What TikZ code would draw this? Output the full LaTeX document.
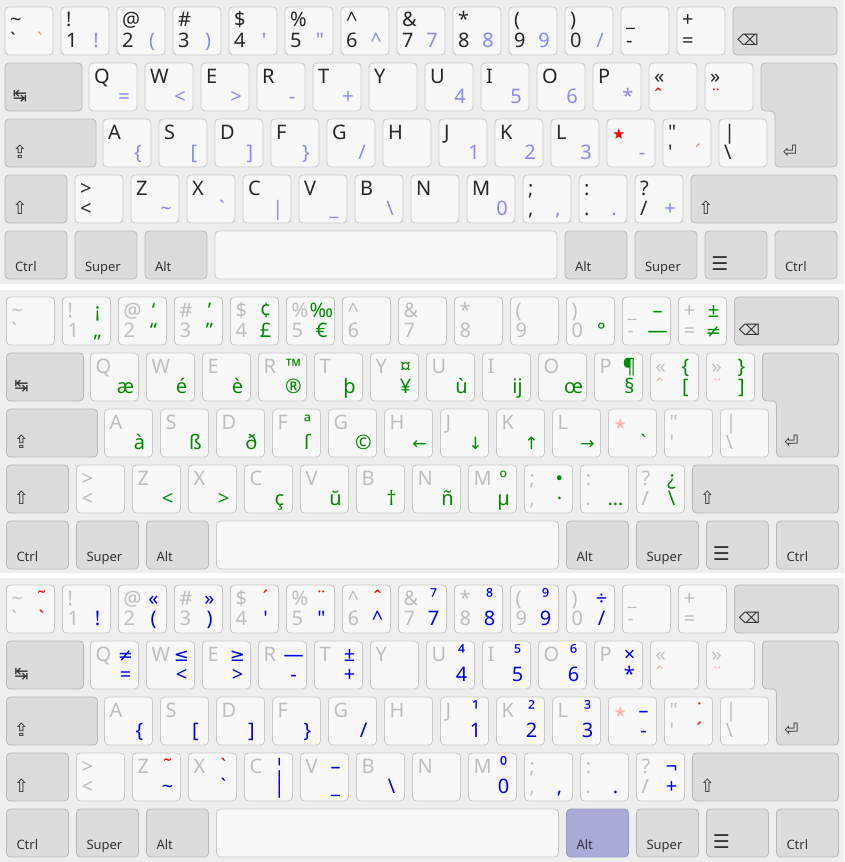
\documentclass[tikz,border=0pt]{standalone}
\usepackage{fontspec}
\newfontfamily\kf{Noto Sans}
\newfontfamily\dvs{DejaVu Sans}
\definecolor{bg}{HTML}{EEEEEC}
\definecolor{keyfill}{HTML}{F8F8F8}
\definecolor{keyline}{HTML}{C8C8C8}
\definecolor{modfill}{HTML}{DCDCDC}
\definecolor{modline}{HTML}{B8B8B8}
\definecolor{altfill}{HTML}{AAAAD8}
\definecolor{altline}{HTML}{9A9AC8}
\definecolor{modtext}{HTML}{333333}
\definecolor{ink}{HTML}{262626}
\definecolor{fade}{HTML}{BEBEBE}
\definecolor{lblue}{HTML}{8888FF}
\definecolor{dblue}{HTML}{0000EE}
\definecolor{dgreen}{HTML}{008A00}
\definecolor{deadred}{HTML}{FF0000}
\definecolor{lightred}{HTML}{FF8080}
\definecolor{pinkd}{HTML}{FFB4B4}
\newcommand\redD[1]{\textcolor{deadred}{#1}}
\newcommand\redL[1]{\textcolor{lightred}{#1}}
\newcommand\pinkD[1]{\textcolor{pinkd}{#1}}
\newcommand\Star[1]{{\dvs\fontsize{15}{15}\selectfont\color{#1}★}}
\newcommand\DV[2]{{\dvs\fontsize{#1}{#1}\selectfont #2}}
\tikzset{
  keybox/.style={draw=keyline, fill=keyfill, rounded corners=4pt, line width=0.8pt,
    minimum width=48pt, minimum height=48pt, anchor=north west, inner sep=0pt, outer sep=0pt},
  modbox/.style={keybox, draw=modline, fill=modfill},
  alton/.style={fill=altfill, draw=altline},
  basec/.style={text=ink},
  altc/.style={text=lblue},
  tl/.style={anchor=base west, inner sep=0pt, outer sep=0pt, font=\kf\fontsize{20}{24}\selectfont, basec},
  tr/.style={anchor=base, inner sep=0pt, outer sep=0pt, font=\kf\fontsize{20}{24}\selectfont, altc},
  modlab/.style={anchor=base west, inner sep=0pt, outer sep=0pt, font=\kf\fontsize{13}{15}\selectfont, text=modtext},
  symlab/.style={anchor=center, inner sep=0pt, outer sep=0pt, font=\dvs, text=modtext},
}
\newcommand\KEY[7]{%
  \node[keybox] (#1) at (#2,#3) {};
  \node[tl] (#1-tl) at ([shift={(5,20)}]#1.north west) {#4};
  \node[tl] (#1-bl) at ([shift={(5,40)}]#1.north west) {#5};
  \node[tr] (#1-tr) at ([shift={(35,20)}]#1.north west) {#6};
  \node[tr] (#1-br) at ([shift={(35,40)}]#1.north west) {#7};
}
\newcommand\Mk[6][]{%
  \node[modbox, minimum width=#5pt, #1] (#2) at (#3,#4) {};
  \node[modlab] (#2-l) at ([shift={(10,40)}]#2.north west) {#6};
}
\newcommand\Ms[5]{%
  \node[modbox, minimum width=#4pt] (#1) at (#2,#3) {};
  \node[symlab] (#1-l) at ([shift={(15,33)}]#1.north west) {#5};
}
\newcommand\KFrame[2]{%
  \Ms{#1-bksp}{728}{7}{104}{\fontsize{15}{15}\selectfont ⌫}
  \Ms{#1-tab}{0}{63}{77}{\fontsize{17}{17}\selectfont ↹}
  \draw[draw=modline, fill=modfill, line width=0.8pt, rounded corners=4pt]
    (794,63) -- (832,63) -- (832,167) -- (770,167) -- (770,111) -- (756,111) -- (756,63) -- cycle;
  \node[symlab] (#1-enter-l) at (785,151) {\fontsize{17}{17}\selectfont ⏎};
  \Ms{#1-caps}{0}{119}{91}{\fontsize{18}{18}\selectfont ⇪}
  \Ms{#1-lshift}{0}{175}{62}{\fontsize{18}{18}\selectfont ⇧}
  \Ms{#1-rshift}{686}{175}{146}{\fontsize{18}{18}\selectfont ⇧}
  \Mk{#1-lctrl}{0}{231}{62}{Ctrl}
  \Mk{#1-lsuper}{70}{231}{62}{Super}
  \Mk{#1-lalt}{140}{231}{62}{Alt}
  \node[keybox, minimum width=342pt] (#1-space) at (210,231) {};
  \Mk[#2]{#1-ralt}{560}{231}{62}{Alt}
  \Mk{#1-rsuper}{630}{231}{62}{Super}
  \Ms{#1-menu}{700}{231}{62}{\fontsize{19}{19}\selectfont ☰}
  \Mk{#1-rctrl}{770}{231}{62}{Ctrl}
}
\begin{document}
\begin{tikzpicture}[x=1pt, y=-1pt]
\useasboundingbox (0,0) rectangle (844,862);
\fill[white] (0,0) rectangle (844,862);
\fill[bg] (0,0) rectangle (844,284);
\fill[bg] (0,290) rectangle (844,573);
\fill[bg] (0,578) rectangle (844,862);

% ================= keyboard 1 : base layer =================
\begin{scope}[shift={(5,0)}, basec/.style={text=ink}, altc/.style={text=lblue}]
\KFrame{a}{}
\KEY{a-grave}{0}{7}{\textasciitilde}{`}{}{\redL{`}}
\KEY{a-1}{56}{7}{!}{1}{}{!}
\KEY{a-2}{112}{7}{@}{2}{}{(}
\KEY{a-3}{168}{7}{\#}{3}{}{)}
\KEY{a-4}{224}{7}{\$}{4}{}{'}
\KEY{a-5}{280}{7}{\%}{5}{}{"}
\KEY{a-6}{336}{7}{\textasciicircum}{6}{}{\textasciicircum}
\KEY{a-7}{392}{7}{\&}{7}{}{7}
\KEY{a-8}{448}{7}{*}{8}{}{8}
\KEY{a-9}{504}{7}{(}{9}{}{9}
\KEY{a-0}{560}{7}{)}{0}{}{/}
\KEY{a-minus}{616}{7}{\_}{-}{}{}
\KEY{a-equal}{672}{7}{+}{=}{}{}
\KEY{a-q}{84}{63}{Q}{}{}{=}
\KEY{a-w}{140}{63}{W}{}{}{<}
\KEY{a-e}{196}{63}{E}{}{}{>}
\KEY{a-r}{252}{63}{R}{}{}{-}
\KEY{a-t}{308}{63}{T}{}{}{+}
\KEY{a-y}{364}{63}{Y}{}{}{}
\KEY{a-u}{420}{63}{U}{}{}{4}
\KEY{a-i}{476}{63}{I}{}{}{5}
\KEY{a-o}{532}{63}{O}{}{}{6}
\KEY{a-p}{588}{63}{P}{}{}{*}
\KEY{a-lq}{644}{63}{«}{\redD{ˆ}}{}{}
\KEY{a-rq}{700}{63}{»}{\redD{¨}}{}{}
\KEY{a-a}{98}{119}{A}{}{}{\{}
\KEY{a-s}{154}{119}{S}{}{}{[}
\KEY{a-d}{210}{119}{D}{}{}{]}
\KEY{a-f}{266}{119}{F}{}{}{\}}
\KEY{a-g}{322}{119}{G}{}{}{/}
\KEY{a-h}{378}{119}{H}{}{}{}
\KEY{a-j}{434}{119}{J}{}{}{1}
\KEY{a-k}{490}{119}{K}{}{}{2}
\KEY{a-l}{546}{119}{L}{}{}{3}
\KEY{a-star}{602}{119}{\Star{deadred}}{}{}{-}
\KEY{a-quote}{658}{119}{"}{'}{}{\redL{´}}
\KEY{a-bar}{714}{119}{|}{\textbackslash}{}{}
\KEY{a-lt}{70}{175}{>}{<}{}{}
\KEY{a-z}{126}{175}{Z}{}{}{\textasciitilde}
\KEY{a-x}{182}{175}{X}{}{}{`}
\KEY{a-c}{238}{175}{C}{}{}{|}
\KEY{a-v}{294}{175}{V}{}{}{\_}
\KEY{a-b}{350}{175}{B}{}{}{\textbackslash}
\KEY{a-n}{406}{175}{N}{}{}{}
\KEY{a-m}{462}{175}{M}{}{}{0}
\KEY{a-comma}{518}{175}{;}{,}{}{,}
\KEY{a-dot}{574}{175}{:}{.}{}{.}
\KEY{a-slash}{630}{175}{?}{/}{}{+}
\end{scope}

% ================= keyboard 2 : one dead key layer =================
\begin{scope}[shift={(6.5,290)}, basec/.style={text=fade}, altc/.style={text=dgreen}]
\KFrame{b}{}
\KEY{b-grave}{0}{7}{\textasciitilde}{`}{}{}
\KEY{b-1}{56}{7}{!}{1}{¡}{„}
\KEY{b-2}{112}{7}{@}{2}{‘}{“}
\KEY{b-3}{168}{7}{\#}{3}{’}{”}
\KEY{b-4}{224}{7}{\$}{4}{¢}{£}
\KEY{b-5}{280}{7}{\%}{5}{‰}{€}
\KEY{b-6}{336}{7}{\textasciicircum}{6}{}{}
\KEY{b-7}{392}{7}{\&}{7}{}{}
\KEY{b-8}{448}{7}{*}{8}{}{}
\KEY{b-9}{504}{7}{(}{9}{}{}
\KEY{b-0}{560}{7}{)}{0}{}{°}
\KEY{b-minus}{616}{7}{\_}{-}{–}{—}
\KEY{b-equal}{672}{7}{+}{=}{±}{\DV{18}{≠}}
\KEY{b-q}{84}{63}{Q}{}{}{æ}
\KEY{b-w}{140}{63}{W}{}{}{é}
\KEY{b-e}{196}{63}{E}{}{}{è}
\KEY{b-r}{252}{63}{R}{}{™}{®}
\KEY{b-t}{308}{63}{T}{}{}{þ}
\KEY{b-y}{364}{63}{Y}{}{¤}{¥}
\KEY{b-u}{420}{63}{U}{}{}{ù}
\KEY{b-i}{476}{63}{I}{}{}{ĳ}
\KEY{b-o}{532}{63}{O}{}{}{œ}
\KEY{b-p}{588}{63}{P}{}{¶}{§}
\KEY{b-lq}{644}{63}{«}{\pinkD{ˆ}}{\{}{[}
\KEY{b-rq}{700}{63}{»}{\pinkD{¨}}{\}}{]}
\KEY{b-a}{98}{119}{A}{}{}{à}
\KEY{b-s}{154}{119}{S}{}{}{ß}
\KEY{b-d}{210}{119}{D}{}{}{ð}
\KEY{b-f}{266}{119}{F}{}{ª}{ſ}
\KEY{b-g}{322}{119}{G}{}{}{©}
\KEY{b-h}{378}{119}{H}{}{}{\DV{17}{←}}
\KEY{b-j}{434}{119}{J}{}{}{\DV{17}{↓}}
\KEY{b-k}{490}{119}{K}{}{}{\DV{17}{↑}}
\KEY{b-l}{546}{119}{L}{}{}{\DV{17}{→}}
\KEY{b-star}{602}{119}{\Star{pinkd}}{}{}{`}
\KEY{b-quote}{658}{119}{"}{'}{}{}
\KEY{b-bar}{714}{119}{|}{\textbackslash}{}{}
\KEY{b-lt}{70}{175}{>}{<}{}{}
\KEY{b-z}{126}{175}{Z}{}{}{<}
\KEY{b-x}{182}{175}{X}{}{}{>}
\KEY{b-c}{238}{175}{C}{}{}{ç}
\KEY{b-v}{294}{175}{V}{}{}{ŭ}
\KEY{b-b}{350}{175}{B}{}{}{†}
\KEY{b-n}{406}{175}{N}{}{}{ñ}
\KEY{b-m}{462}{175}{M}{}{º}{µ}
\KEY{b-comma}{518}{175}{;}{,}{•}{·}
\KEY{b-dot}{574}{175}{:}{.}{}{…}
\KEY{b-slash}{630}{175}{?}{/}{¿}{\textbackslash}
\end{scope}

% ================= keyboard 3 : AltGr layer =================
\begin{scope}[shift={(6.5,578)}, basec/.style={text=fade}, altc/.style={text=dblue}]
\KFrame{c}{alton}
\KEY{c-grave}{0}{7}{\textasciitilde}{`}{\redD{˜}}{\redD{`}}
\KEY{c-1}{56}{7}{!}{1}{}{!}
\KEY{c-2}{112}{7}{@}{2}{«}{(}
\KEY{c-3}{168}{7}{\#}{3}{»}{)}
\KEY{c-4}{224}{7}{\$}{4}{\redD{´}}{'}
\KEY{c-5}{280}{7}{\%}{5}{\redD{¨}}{"}
\KEY{c-6}{336}{7}{\textasciicircum}{6}{\redD{ˆ}}{\textasciicircum}
\KEY{c-7}{392}{7}{\&}{7}{⁷}{7}
\KEY{c-8}{448}{7}{*}{8}{⁸}{8}
\KEY{c-9}{504}{7}{(}{9}{⁹}{9}
\KEY{c-0}{560}{7}{)}{0}{÷}{/}
\KEY{c-minus}{616}{7}{\_}{-}{}{}
\KEY{c-equal}{672}{7}{+}{=}{}{}
\KEY{c-q}{84}{63}{Q}{}{\DV{18}{≠}}{=}
\KEY{c-w}{140}{63}{W}{}{\DV{18}{≤}}{<}
\KEY{c-e}{196}{63}{E}{}{\DV{18}{≥}}{>}
\KEY{c-r}{252}{63}{R}{}{—}{-}
\KEY{c-t}{308}{63}{T}{}{±}{+}
\KEY{c-y}{364}{63}{Y}{}{}{}
\KEY{c-u}{420}{63}{U}{}{⁴}{4}
\KEY{c-i}{476}{63}{I}{}{⁵}{5}
\KEY{c-o}{532}{63}{O}{}{⁶}{6}
\KEY{c-p}{588}{63}{P}{}{×}{*}
\KEY{c-lq}{644}{63}{«}{\pinkD{ˆ}}{}{}
\KEY{c-rq}{700}{63}{»}{\pinkD{¨}}{}{}
\KEY{c-a}{98}{119}{A}{}{}{\{}
\KEY{c-s}{154}{119}{S}{}{}{[}
\KEY{c-d}{210}{119}{D}{}{}{]}
\KEY{c-f}{266}{119}{F}{}{}{\}}
\KEY{c-g}{322}{119}{G}{}{}{/}
\KEY{c-h}{378}{119}{H}{}{}{}
\KEY{c-j}{434}{119}{J}{}{¹}{1}
\KEY{c-k}{490}{119}{K}{}{²}{2}
\KEY{c-l}{546}{119}{L}{}{³}{3}
\KEY{c-star}{602}{119}{\Star{pinkd}}{}{–}{-}
\KEY{c-quote}{658}{119}{"}{'}{\redD{˙}}{\redD{´}}
\KEY{c-bar}{714}{119}{|}{\textbackslash}{}{}
\KEY{c-lt}{70}{175}{>}{<}{}{}
\KEY{c-z}{126}{175}{Z}{}{\redD{˜}}{\textasciitilde}
\KEY{c-x}{182}{175}{X}{}{\redD{`}}{`}
\KEY{c-c}{238}{175}{C}{}{¦}{|}
\KEY{c-v}{294}{175}{V}{}{–}{\_}
\KEY{c-b}{350}{175}{B}{}{}{\textbackslash}
\KEY{c-n}{406}{175}{N}{}{}{}
\KEY{c-m}{462}{175}{M}{}{⁰}{0}
\KEY{c-comma}{518}{175}{;}{,}{}{,}
\KEY{c-dot}{574}{175}{:}{.}{}{.}
\KEY{c-slash}{630}{175}{?}{/}{¬}{+}
\end{scope}
\end{tikzpicture}
\end{document}
